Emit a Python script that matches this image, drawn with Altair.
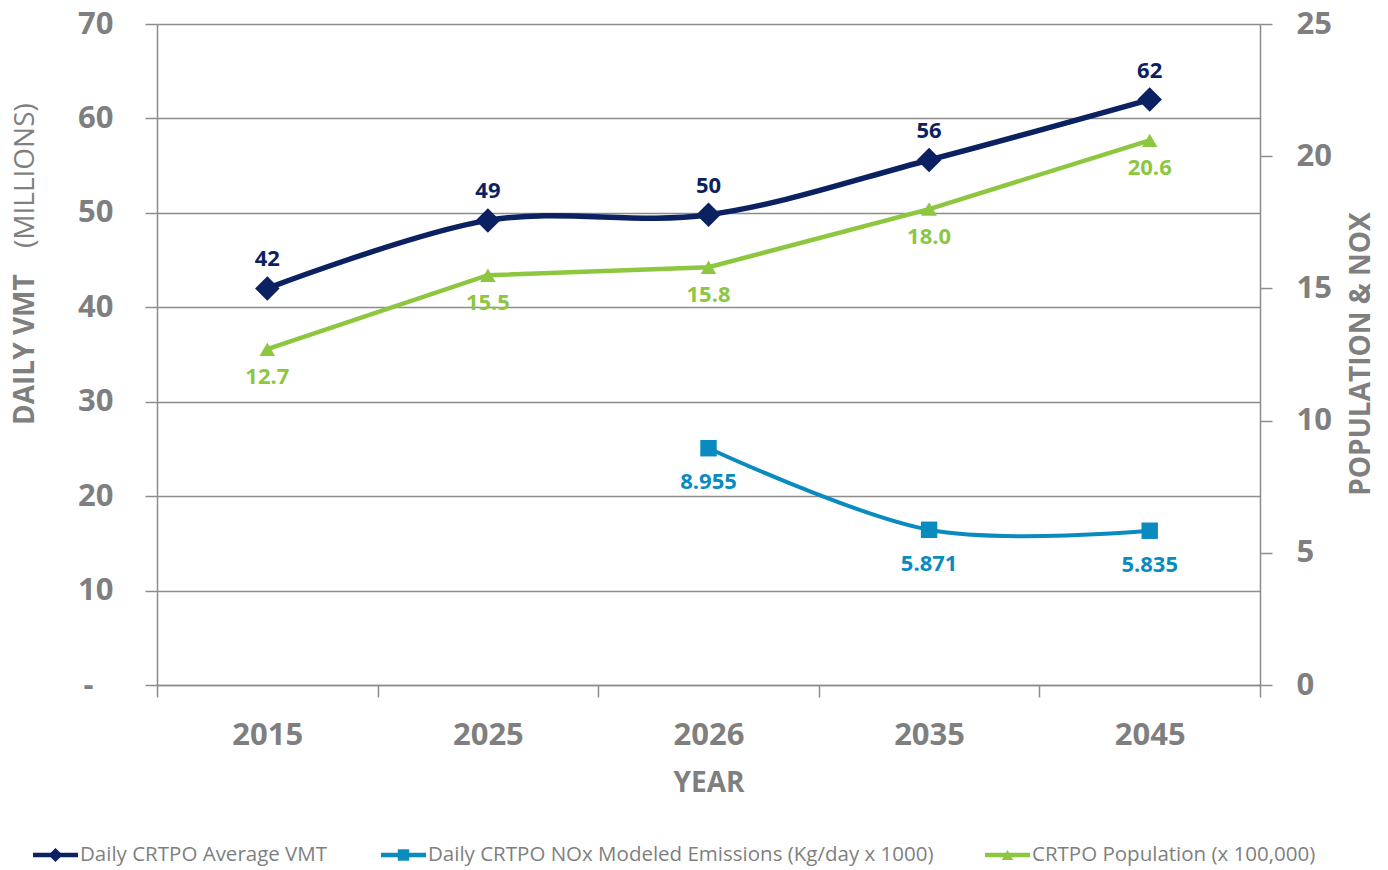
import altair as alt
import pandas as pd

years = ["2015", "2025", "2026", "2035", "2045"]
vmt = [42.0, 49.2, 49.8, 55.6, 62.0]
population = [12.7, 15.5, 15.8, 18.0, 20.6]
nox = [None, None, 8.955, 5.871, 5.835]

series_names = [
    "Daily CRTPO Average VMT",
    "Daily CRTPO NOx Modeled Emissions (Kg/day x 1000)",
    "CRTPO Population (x 100,000)",
]

NAVY = "#0B2161"
BLUE = "#0A8BBF"
GREEN = "#8DC63F"
GRAY = "#7F7F7F"
GRID = "#8C8C8C"
FONT = "Open Sans"

df = pd.DataFrame({"year": years, "vmt": vmt, "pop": population, "nox": nox})
dummy = pd.DataFrame({"a": [0]})

x_axis = alt.Axis(
    title="YEAR", titleFont=FONT, titleFontSize=28, titleFontWeight="bold",
    titleColor=GRAY, titlePadding=19,
    labelFont=FONT, labelFontSize=31, labelFontWeight="bold", labelColor=GRAY,
    labelPadding=23, labelAngle=0,
    tickBand="extent", tickSize=12, tickColor=GRID, tickWidth=1.5,
    domainColor=GRID, domainWidth=1.5, grid=False,
)
X = alt.X("year:N", sort=years,
          scale=alt.Scale(type="band", paddingInner=0, paddingOuter=0),
          axis=x_axis)

left_axis = alt.Axis(
    orient="left", title=None, values=[0, 10, 20, 30, 40, 50, 60, 70],
    labelExpr="datum.value == 0 ? '-' : datum.label",
    labelFont=FONT, labelFontSize=31, labelFontWeight="bold", labelColor=GRAY,
    labelPadding={"condition": {"test": "datum.value == 0", "value": 52}, "value": 32},
    tickSize=12, tickColor=GRID, tickWidth=1.5,
    domainColor=GRID, domainWidth=1.5,
    grid=True, gridColor=GRID, gridWidth=1.5,
)
right_axis = alt.Axis(
    orient="right", title=None,
    values=[0, 5, 10, 15, 20, 25],
    labelFont=FONT, labelFontSize=31, labelFontWeight="bold", labelColor=GRAY,
    labelPadding=24, tickSize=12, tickColor=GRID, tickWidth=1.5,
    domainColor=GRID, domainWidth=1.5, grid=False,
)

y_left = alt.Y("vmt:Q", scale=alt.Scale(domain=[0, 70], nice=False), axis=left_axis)
rscale = alt.Scale(domain=[0, 25], nice=False)
y_pop = alt.Y("pop:Q", scale=rscale, axis=right_axis)
y_nox = alt.Y("nox:Q", scale=rscale, axis=right_axis)

base = alt.Chart(df)
label_style = dict(font=FONT, fontSize=22, fontWeight="bold")

vmt_line = base.mark_line(interpolate="cardinal", color=NAVY, strokeWidth=5.5).encode(x=X, y=y_left)
vmt_pts = base.mark_point(shape="diamond", filled=True, size=600, color=NAVY, opacity=1).encode(x=X, y=y_left)
vmt_lbl = base.mark_text(dy=-29, color=NAVY, **label_style).encode(
    x=X, y=y_left, text=alt.Text("vmt:Q", format=".0f"))
left = alt.layer(vmt_line, vmt_pts, vmt_lbl)

nox_base = base.transform_filter("isValid(datum.nox)")
pop_line = base.mark_line(color=GREEN, strokeWidth=4.5).encode(x=X, y=y_pop)
pop_pts = base.mark_point(shape="triangle-up", filled=True, size=240, color=GREEN, opacity=1).encode(x=X, y=y_pop)
pop_lbl = base.mark_text(dy=28, color=GREEN, **label_style).encode(
    x=X, y=y_pop, text=alt.Text("pop:Q", format=".1f"))
nox_line = nox_base.mark_line(interpolate="cardinal", color=BLUE, strokeWidth=4).encode(x=X, y=y_nox)
nox_pts = nox_base.mark_point(shape="square", filled=True, size=270, color=BLUE, opacity=1).encode(x=X, y=y_nox)
nox_lbl = nox_base.mark_text(dy=34, color=BLUE, **label_style).encode(
    x=X, y=y_nox, text=alt.Text("nox:Q", format=".3f"))
right = alt.layer(pop_line, pop_pts, pop_lbl, nox_line, nox_pts, nox_lbl)

# axis titles as text (left one has mixed weights)
t1 = alt.Chart(dummy).mark_text(
    angle=270, align="left", baseline="middle", font=FONT, fontSize=28,
    fontWeight="bold", color=GRAY
).encode(x=alt.value(-131), y=alt.value(401), text=alt.value("DAILY VMT"))
t2 = alt.Chart(dummy).mark_text(
    angle=270, align="left", baseline="middle", font=FONT, fontSize=28,
    fontWeight="normal", color=GRAY
).encode(x=alt.value(-131), y=alt.value(224), text=alt.value("(MILLIONS)"))
t3 = alt.Chart(dummy).mark_text(
    angle=270, align="center", baseline="middle", font=FONT, fontSize=28,
    fontWeight="bold", color=GRAY
).encode(x=alt.value(1205), y=alt.value(330), text=alt.value("POPULATION & NOX"))

# legend
legend_layers = []
legend_x = [-124, 224, 828]
legend_colors = [NAVY, BLUE, GREEN]
legend_shapes = ["diamond", "square", "triangle-up"]
legend_sizes = [200, 130, 130]
LY = 831
for name, x0, c, sh, sz in zip(series_names, legend_x, legend_colors, legend_shapes, legend_sizes):
    legend_layers.append(alt.Chart(dummy).mark_rule(color=c, strokeWidth=4.5).encode(
        x=alt.value(x0), x2=alt.value(x0 + 45), y=alt.value(LY)))
    legend_layers.append(alt.Chart(dummy).mark_point(shape=sh, filled=True, size=sz, color=c, opacity=1).encode(
        x=alt.value(x0 + 22.5), y=alt.value(LY)))
    legend_layers.append(alt.Chart(dummy).mark_text(
        align="left", baseline="middle", font=FONT, fontSize=20.5, color=GRAY
    ).encode(x=alt.value(x0 + 47), y=alt.value(LY), text=alt.value(name)))

chart = alt.layer(left, right, t1, t2, t3, *legend_layers).resolve_scale(
    y="independent"
).properties(
    width=1103, height=661,
    autosize=alt.AutoSizeParams(type="none"),
    padding={"left": 149, "top": 16, "right": 120, "bottom": 185},
    background="white",
).configure_view(stroke=None)

chart.save("out.html", embed_options={"renderer": "svg", "actions": False})
